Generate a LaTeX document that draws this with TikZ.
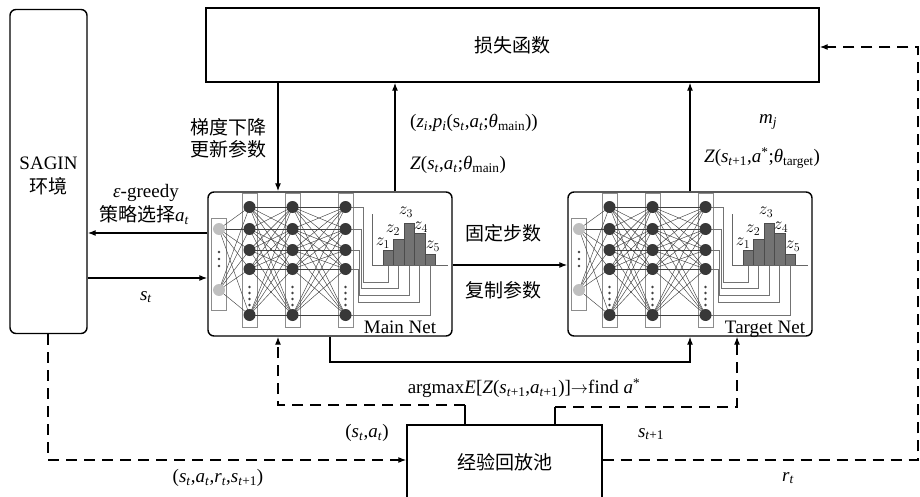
\documentclass[tikz,border=0pt]{standalone}
\usepackage{fontspec}
\setmainfont{Liberation Serif}
\newfontfamily\cjk{Noto Sans CJK SC}
\newfontfamily\symf{DejaVu Serif}
\usetikzlibrary{arrows.meta}
\pgfdeclarelayer{bg}
\pgfsetlayers{bg,main}
\newcommand\iv[1]{\textit{#1}}
\newcommand\sbs[1]{\textsubscript{#1}}
\newcommand\sps[1]{\textsuperscript{#1}}
\newcommand\vs[2]{\textit{#1}\textsubscript{\textit{#2}}}
\newcommand\vsub[2]{\textit{#1}\textsubscript{#2}}
\newcommand\drawnet[3]{%
\begin{scope}[shift={(#2,#3)}]
  \foreach \i/\yy in {1/15,2/37,3/58,4/77,5/123}{
    \node[hid] (#1a\i) at (41.5,\yy) {};
    \node[hid] (#1b\i) at (84.5,\yy) {};
    \node[hid] (#1c\i) at (137.5,\yy) {};
  }
  \node[inp] (#1i1) at (11,37) {};
  \node[inp] (#1i2) at (11,98) {};
  \begin{pgfonlayer}{bg}
    \draw[col] (3,26) rectangle (18,118);
    \draw[col] (34,1) rectangle (49,135);
    \draw[col] (77,1) rectangle (92,135);
    \draw[col] (130,1) rectangle (145,135);
    \foreach \i in {1,...,5}{
      \foreach \j in {1,...,5}{
        \draw[wire] (#1a\i.center) -- (#1b\j.center);
        \draw[wire] (#1b\i.center) -- (#1c\j.center);
      }
      \draw[wire] (#1i1.center) -- (#1a\i.center);
      \draw[wire] (#1i2.center) -- (#1a\i.center);
    }
    \draw[owire] (#1c1.center) -- (155,15) -- (155,90) -- (180.25,90) -- (180.25,73);
    \draw[owire] (#1c2.center) -- (153.3,37) -- (153.3,96) -- (190.75,96) -- (190.75,73);
    \draw[owire] (#1c3.center) -- (151.6,58) -- (151.6,103) -- (201.25,103) -- (201.25,73);
    \draw[owire] (#1c4.center) -- (150,77) -- (150,110) -- (211.75,110) -- (211.75,73);
    \draw[owire] (#1c5.center) -- (222.25,123) -- (222.25,73);
  \end{pgfonlayer}
  \foreach \yy in {60,67,74}{\fill[black!75] (11,\yy) circle (1.3);}
  \foreach \xx in {41.5,84.5,137.5}{
    \foreach \yy in {95,101,107,113}{\fill[black!75] (\xx,\yy) circle (1.3);}
  }
  \foreach \k/\t in {1/58,2/47,3/31,4/41,5/62}{
    \draw[bar] ({175+(\k-1)*10.5},73) rectangle ({185.5+(\k-1)*10.5},\t);
  }
  \draw[axis] (164,73) -- (164,22);
  \draw[axis] (164,73) -- (240,73);
  \node[zl] (#1z1) at (175,51) {$z_1$};
  \node[zl] (#1z2) at (185,38) {$z_2$};
  \node[zl] (#1z3) at (198,20) {$z_3$};
  \node[zl] (#1z4) at (213,35) {$z_4$};
  \node[zl] (#1z5) at (225,54) {$z_5$};
\end{scope}}
\begin{document}
\begin{tikzpicture}[x=1pt,y=-1pt,
  every node/.style={inner sep=0pt},
  lab/.style={font=\fontsize{19}{22}\selectfont, inner sep=0pt},
  box/.style={draw, line width=1.4pt, font=\fontsize{19}{22}\selectfont},
  netbox/.style={draw, line width=1.4pt, rounded corners=6pt},
  arr/.style={line width=1.2pt, -{Latex[length=8pt,width=6pt]}},
  darr/.style={arr, dash pattern=on 11pt off 7pt},
  plain/.style={line width=1.2pt},
  hid/.style={circle, fill=black!78, minimum size=12pt, inner sep=0pt},
  inp/.style={circle, fill=black!25, minimum size=12pt, inner sep=0pt},
  col/.style={draw=black!45, line width=0.7pt},
  wire/.style={black!75, line width=0.45pt},
  owire/.style={black!55, line width=0.7pt},
  bar/.style={fill=black!55, draw=black!70, line width=0.5pt},
  axis/.style={black!60, line width=0.6pt},
  zl/.style={font=\fontsize{17}{19}\selectfont, inner sep=0pt}]
\useasboundingbox (0,0) rectangle (920,497);
% main boxes
\node[box, minimum width=613, minimum height=74] (loss) at (512.5,45) {\cjk 损失函数};
\node[netbox, minimum width=77, minimum height=324] (sagin) at (48.5,171.5) {};
\node[lab] (sagintxt1) at (48.5,163) {SAGIN};
\node[lab] (sagintxt2) at (48.5,186) {\cjk 环境};
\node[netbox, minimum width=244, minimum height=144] (main) at (330,264) {};
\node[netbox, minimum width=244, minimum height=144] (target) at (690,264) {};
\node[box, minimum width=195, minimum height=100] (buf) at (504.5,475) {};
\node[lab] (buftxt) at (504.5,462) {\cjk 经验回放池};
% networks
\drawnet{m}{208}{192}
\node[lab, anchor=base] (mainname) at (400,333) {Main Net};
\drawnet{t}{568}{192}
\node[lab, anchor=base] (targetname) at (765,333) {Target Net};
% helper coordinates
\coordinate (xa) at (278,0);
\coordinate (xb) at (395,0);
\coordinate (xc) at (690,0);
\coordinate (xd) at (330,0);
\coordinate (xe) at (465,0);
\coordinate (xf) at (555,0);
\coordinate (xg) at (737,0);
\coordinate (xh) at (48,0);
\coordinate (xr) at (918,0);
\coordinate (ya) at (0,233);
\coordinate (yb) at (0,278);
\coordinate (yc) at (0,265);
\coordinate (yd) at (0,362);
\coordinate (ye) at (0,405);
\coordinate (yf) at (0,407);
\coordinate (yg) at (0,460);
\coordinate (yh) at (0,47);
% connectors
\draw[arr] (loss.south -| xa) -- (main.north -| xa);
\draw[arr] (main.north -| xb) -- (loss.south -| xb);
\draw[arr] (target.north -| xc) -- (loss.south -| xc);
\draw[arr] (main.west |- ya) -- (sagin.east |- ya);
\draw[arr] (sagin.east |- yb) -- (main.west |- yb);
\draw[arr] (main.east |- yc) -- (target.west |- yc);
\draw[arr] (main.south -| xd) -- (xd |- yd) -- (xc |- yd) -- (target.south -| xc);
\draw[plain] (buf.north -| xe) -- (xe |- ye);
\draw[darr] (xe |- ye) -- (xa |- ye) -- (main.south -| xa);
\draw[plain] (buf.north -| xf) -- (xf |- yf);
\draw[darr] (xf |- yf) -- (xg |- yf) -- (target.south -| xg);
\draw[darr] (sagin.south -| xh) -- (xh |- yg) -- (buf.west |- yg);
\draw[darr] (buf.east |- yg) -- (xr |- yg) -- (xr |- yh) -- (loss.east |- yh);
% labels
\node[lab] (lgrad1) at (228,127) {\cjk 梯度下降};
\node[lab] (lgrad2) at (228,149) {\cjk 更新参数};
\node[lab, anchor=west] (lzp) at (410,123) {(\vs{z}{i},\vs{p}{i}(s\sbs{\iv{t}},\vs{a}{t};\iv{θ}\sbs{main}))};
\node[lab, anchor=west] (lz) at (410,165) {\iv{Z}(\vs{s}{t},\vs{a}{t};\iv{θ}\sbs{main})};
\node[lab] (lmj) at (768,122) {\vs{m}{j}};
\node[lab] (lzt) at (762,158) {\iv{Z}(\vsub{s}{\iv{t}+1},\iv{a}\sps{*};\iv{θ}\sbs{target})};
\node[lab] (leps) at (146,193) {\iv{ε}-greedy};
\node[lab] (lpol) at (144,215) {{\cjk 策略选择}\vs{a}{t}};
\node[lab] (lst) at (146,297) {\vs{s}{t}};
\node[lab] (lfix) at (503,233) {\cjk 固定步数};
\node[lab] (lcopy) at (503,290) {\cjk 复制参数};
\node[lab] (largmax) at (524,388) {argmax\iv{E}[\iv{Z}(\vsub{s}{\iv{t}+1},\vsub{a}{\iv{t}+1})]$\rightarrow$find \iv{a}\sps{*}};
\node[lab] (lsa) at (367,433) {(\vs{s}{t},\vs{a}{t})};
\node[lab] (lsn) at (651,434) {\vsub{s}{\iv{t}+1}};
\node[lab] (lsars) at (218,478) {(\vs{s}{t},\vs{a}{t},\vs{r}{t},\vsub{s}{\iv{t}+1})};
\node[lab] (lrt) at (788,478) {\vs{r}{t}};
\end{tikzpicture}
\end{document}
